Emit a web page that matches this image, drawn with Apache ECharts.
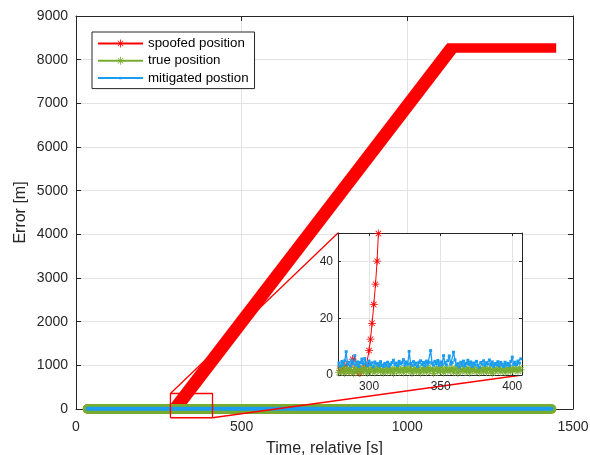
<!DOCTYPE html>
<html>
<head>
<meta charset="utf-8">
<script src="https://cdn.jsdelivr.net/npm/echarts@6/dist/echarts.min.js"></script>
<style>
  html, body { margin: 0; padding: 0; background: #fff; }
  #chart { width: 590px; height: 455px; }
</style>
</head>
<body>
<div id="chart"></div>
<script>
// overview, time [s] / error [m]
const spoofedT = [35, 299, 1134, 1435];
const spoofedV = [2, 3, 8270, 8270];
const trueT = [35, 1435];
const trueV = [1.7, 1.7];
const mitigatedT = [35, 1435];
const mitigatedV = [4, 4];

// zoomed window: one reading per second starting at zoomT0
const zoomT0 = 278;
const zoomMitigated = [
  3.5, 4.2, 3.1, 4.8, 3.6, 5.0, 8.2, 3.8, 4.5, 3.2,
  5.2, 4.0, 6.8, 3.5, 4.6, 3.0, 4.4, 5.6, 3.9, 5.8,
  4.1, 3.3, 4.9, 3.7, 4.3, 2.9, 4.6, 3.8, 4.0, 3.2,
  4.7, 3.5, 3.0, 4.1, 3.4, 4.5, 3.1, 3.8, 4.4, 5.2,
  3.6, 4.2, 3.3, 4.8, 3.9, 4.3, 5.4, 3.5, 4.6, 3.8,
  8.3, 4.0, 3.4, 4.7, 3.6, 4.2, 3.0, 4.5, 5.0, 3.7,
  4.4, 3.2, 4.9, 3.8, 4.5, 8.6, 4.1, 3.5, 4.8, 3.9,
  5.1, 3.4, 4.6, 3.7, 6.8, 4.3, 3.6, 5.0, 6.7, 3.8,
  4.4, 8.0, 5.3, 3.6, 4.0, 2.8, 4.5, 3.5, 4.9, 3.2,
  4.1, 5.2, 3.7, 4.6, 3.0, 4.2, 3.6, 4.8, 3.3, 2.7,
  4.4, 3.8, 5.0, 3.4, 4.3, 3.9, 5.3, 3.5, 4.6, 3.1,
  4.0, 3.6, 4.7, 3.2, 4.4, 3.8, 3.0, 4.5, 3.5, 4.1,
  3.3, 4.8, 6.3, 3.7, 4.5, 3.6, 4.9, 4.2, 5.7
];
const zoomTrue = [
  1.8, 0.9, 2.4, 1.2, 2.9, 0.6, 1.7, 2.2, 1.0, 2.6,
  1.4, 0.5, 2.0, 1.6, 2.8, 0.8, 1.9, 2.3, 1.1, 2.7,
  1.5, 0.7, 2.1, 1.3, 2.5, 1.8, 0.9, 2.2, 1.6, 3.0,
  1.2, 2.0, 0.8, 1.7, 2.4, 1.0, 2.6, 1.4, 1.9, 0.6,
  2.3, 1.5, 2.8, 1.1, 1.8, 2.1, 0.9, 2.5, 1.3, 2.0,
  1.6, 2.9, 0.7, 1.9, 2.2, 1.2, 2.6, 1.5, 0.8, 2.4,
  1.7, 2.0, 1.0, 2.7, 1.4, 1.9, 2.3, 0.6, 1.8, 2.5,
  1.1, 2.1, 1.6, 2.8, 0.9, 1.7, 2.4, 1.3, 2.0, 1.5,
  2.6, 1.0, 1.8, 2.2, 0.7, 2.9, 1.4, 1.9, 2.3, 1.1,
  1.6, 2.5, 0.8, 2.0, 1.7, 2.7, 1.2, 1.5, 2.1, 0.9,
  2.4, 1.8, 1.3, 2.6, 1.0, 1.9, 2.2, 1.6, 0.6, 2.8,
  1.4, 2.0, 1.7, 2.3, 1.1, 1.8, 2.5, 0.9, 2.1, 1.5,
  2.7, 1.2, 1.9, 2.4, 1.6, 2.0, 1.3, 2.6, 1.8
];
const zoomSpoofedT = [278, 280, 282, 284, 286, 288.5, 290, 292, 293.6, 296, 298, 300, 301, 302.1, 303.3, 304.5, 305.6, 306.5, 307.4];
const zoomSpoofedV = [3.0, 1.5, 2.2, 3.5, 1.2, 5.6, 2.0, 1.4, 0.7, 2.5, 3.2, 8.6, 12.6, 18.2, 24.8, 32.0, 40.1, 49.8, 60];

const insetXTicks = [300, 350, 400];
const insetYTicks = [0, 20, 40];
// area of the main axes shown in the inset
const zoomBoxX = [285, 412];
const zoomBoxY = [-200, 355];

const FONT = '"Liberation Sans", Arial, sans-serif';
const AX = '#262626';
const GRIDC = '#e3e3e3';
const RED = '#ff0000';
const GREEN = '#77ac30';
const BLUE = '#1a9cf0';

// MATLAB-like asterisk and dot markers
const STAR = 'path://M9,0h2v20h-2z M0,9h20v2h-20z M2.6,3.9L3.9,2.6L17.4,16.1L16.1,17.4z M16.1,2.6L17.4,3.9L3.9,17.4L2.6,16.1z';
const DOT = 'path://M0,0M10,10M3.5,3.5h3v3h-3z';

const pairs = (ts, vs) => ts.map((t, i) => [t, vs[i]]);
const seq = (t0, vs) => vs.map((v, i) => [t0 + i, v]);
const plain = (v) => String(v);

const spoofedAll = pairs(spoofedT, spoofedV);

const inset = { left: 338, top: 233, width: 184, height: 142 };

const chart = echarts.init(document.getElementById('chart'));

const boxAxis = (extra) => Object.assign({
  type: 'value',
  axisLine: { show: true, onZero: false, lineStyle: { color: AX, width: 1 } },
  axisTick: { show: true, inside: true, length: 5, lineStyle: { color: AX } },
  axisLabel: { show: false },
  splitLine: { show: false }
}, extra);

chart.setOption({
  animation: false,
  textStyle: { fontFamily: FONT },
  grid: [
    { left: 76, top: 16, right: 17, bottom: 46, outerBoundsMode: 'none', containLabel: false },
    {
      left: inset.left, top: inset.top, width: inset.width, height: inset.height,
      show: true, backgroundColor: '#fff', borderWidth: 0, z: 5,
      outerBoundsMode: 'none', containLabel: false
    }
  ],
  legend: {
    data: ['spoofed position', 'true position', 'mitigated postion'],
    orient: 'vertical',
    left: 92,
    top: 32,
    itemWidth: 45,
    itemHeight: 10,
    itemGap: 4.3,
    padding: [5, 6, 4, 5],
    borderColor: AX,
    borderWidth: 1,
    borderRadius: 0,
    backgroundColor: '#fff',
    selectedMode: false,
    textStyle: { fontSize: 13.3, color: '#000', fontFamily: FONT }
  },
  xAxis: [
    boxAxis({
      gridIndex: 0, min: 0, max: 1500, interval: 500, position: 'bottom',
      axisLabel: { show: true, fontSize: 14, color: AX, margin: 11, fontFamily: FONT, formatter: plain },
      splitLine: { show: true, lineStyle: { color: GRIDC, width: 1 } },
      name: 'Time, relative [s]', nameLocation: 'middle', nameGap: 32,
      nameTextStyle: { fontSize: 16, color: AX, fontFamily: FONT }
    }),
    boxAxis({ gridIndex: 0, min: 0, max: 1500, interval: 500, position: 'top' }),
    boxAxis({
      gridIndex: 1, min: 278.3, max: 406.8, position: 'bottom', z: 6,
      axisTick: { show: true, inside: true, length: 3, customValues: insetXTicks, lineStyle: { color: AX } },
      axisLabel: { show: true, customValues: insetXTicks, fontSize: 12, color: AX, margin: 6, fontFamily: FONT },
      splitLine: { show: true, lineStyle: { color: GRIDC, width: 1 } }
    }),
    boxAxis({
      gridIndex: 1, min: 278.3, max: 406.8, position: 'top', z: 6,
      axisTick: { show: true, inside: true, length: 3, customValues: insetXTicks, lineStyle: { color: AX } }
    })
  ],
  yAxis: [
    boxAxis({
      gridIndex: 0, min: 0, max: 9000, interval: 1000, position: 'left',
      axisLabel: { show: true, fontSize: 14, color: AX, margin: 8, fontFamily: FONT, formatter: plain },
      splitLine: { show: true, lineStyle: { color: GRIDC, width: 1 } },
      name: 'Error [m]', nameLocation: 'middle', nameGap: 47, nameMoveOverlap: false,
      nameTextStyle: { fontSize: 16, color: AX, fontFamily: FONT }
    }),
    boxAxis({ gridIndex: 0, min: 0, max: 9000, interval: 1000, position: 'right' }),
    boxAxis({
      gridIndex: 1, min: 0, max: 50, position: 'left', z: 6,
      axisTick: { show: true, inside: true, length: 3, customValues: insetYTicks, lineStyle: { color: AX } },
      axisLabel: { show: true, customValues: insetYTicks, fontSize: 12, color: AX, margin: 5, fontFamily: FONT },
      splitLine: { show: true, lineStyle: { color: GRIDC, width: 1 } }
    }),
    boxAxis({
      gridIndex: 1, min: 0, max: 50, position: 'right', z: 6,
      axisTick: { show: true, inside: true, length: 3, customValues: insetYTicks, lineStyle: { color: AX } }
    })
  ],
  series: [
    // inset (listed first so the legend takes its look from these)
    {
      name: 'spoofed position', type: 'line', xAxisIndex: 2, yAxisIndex: 2, z: 7,
      data: pairs(zoomSpoofedT, zoomSpoofedV),
      symbol: STAR, symbolSize: 8,
      lineStyle: { color: RED, width: 1 }, itemStyle: { color: RED }
    },
    {
      name: 'true position', type: 'line', xAxisIndex: 2, yAxisIndex: 2, z: 7,
      data: seq(zoomT0, zoomTrue),
      symbol: STAR, symbolSize: 8,
      lineStyle: { color: GREEN, width: 1 }, itemStyle: { color: GREEN }
    },
    {
      name: 'mitigated postion', type: 'line', xAxisIndex: 2, yAxisIndex: 2, z: 7,
      data: seq(zoomT0, zoomMitigated),
      symbol: DOT, symbolSize: 10,
      lineStyle: { color: BLUE, width: 1.3 }, itemStyle: { color: BLUE }
    },
    // overview: the dense markers make the ramp look wider than the plateau
    {
      name: 'spoofed position', type: 'line', xAxisIndex: 0, yAxisIndex: 0, z: 2,
      data: spoofedAll.slice(0, 2), symbol: 'none',
      lineStyle: { color: RED, width: 9.5, cap: 'round' }
    },
    {
      name: 'spoofed position', type: 'line', xAxisIndex: 0, yAxisIndex: 0, z: 2,
      data: spoofedAll.slice(1, 3), symbol: 'none',
      lineStyle: { color: RED, width: 13, cap: 'butt' }
    },
    {
      name: 'spoofed position', type: 'line', xAxisIndex: 0, yAxisIndex: 0, z: 2,
      data: spoofedAll.slice(2), symbol: 'none',
      lineStyle: { color: RED, width: 9.5, cap: 'square' }
    },
    {
      name: 'true position', type: 'line', xAxisIndex: 0, yAxisIndex: 0, z: 2,
      data: pairs(trueT, trueV), symbol: 'none',
      lineStyle: { color: GREEN, width: 10, cap: 'round' }
    },
    {
      name: 'mitigated postion', type: 'line', xAxisIndex: 0, yAxisIndex: 0, z: 2,
      data: pairs(mitigatedT, mitigatedV), symbol: 'none',
      lineStyle: { color: BLUE, width: 4, cap: 'round' }
    },
    // zoom box and its connectors
    {
      name: 'zoom box', type: 'line', xAxisIndex: 0, yAxisIndex: 0, z: 3, clip: false, silent: true,
      data: [[zoomBoxX[0], zoomBoxY[0]], [zoomBoxX[1], zoomBoxY[0]], [zoomBoxX[1], zoomBoxY[1]], [zoomBoxX[0], zoomBoxY[1]], [zoomBoxX[0], zoomBoxY[0]]],
      symbol: 'none', lineStyle: { color: RED, width: 1.3 }
    },
    { id: 'link1', name: 'link1', type: 'line', xAxisIndex: 0, yAxisIndex: 0, z: 3, clip: false, silent: true, data: [], symbol: 'none', lineStyle: { color: RED, width: 1.3 } },
    { id: 'link2', name: 'link2', type: 'line', xAxisIndex: 0, yAxisIndex: 0, z: 3, clip: false, silent: true, data: [], symbol: 'none', lineStyle: { color: RED, width: 1.3 } }
  ]
});

// connect the zoom box to the inset corners
const tl = chart.convertFromPixel({ seriesIndex: 3 }, [inset.left, inset.top]);
const br = chart.convertFromPixel({ seriesIndex: 3 }, [inset.left + inset.width, inset.top + inset.height]);
chart.setOption({
  series: [
    { id: 'link1', data: [[zoomBoxX[0], zoomBoxY[1]], tl] },
    { id: 'link2', data: [[zoomBoxX[1], zoomBoxY[0]], br] }
  ]
});
</script>
</body>
</html>
